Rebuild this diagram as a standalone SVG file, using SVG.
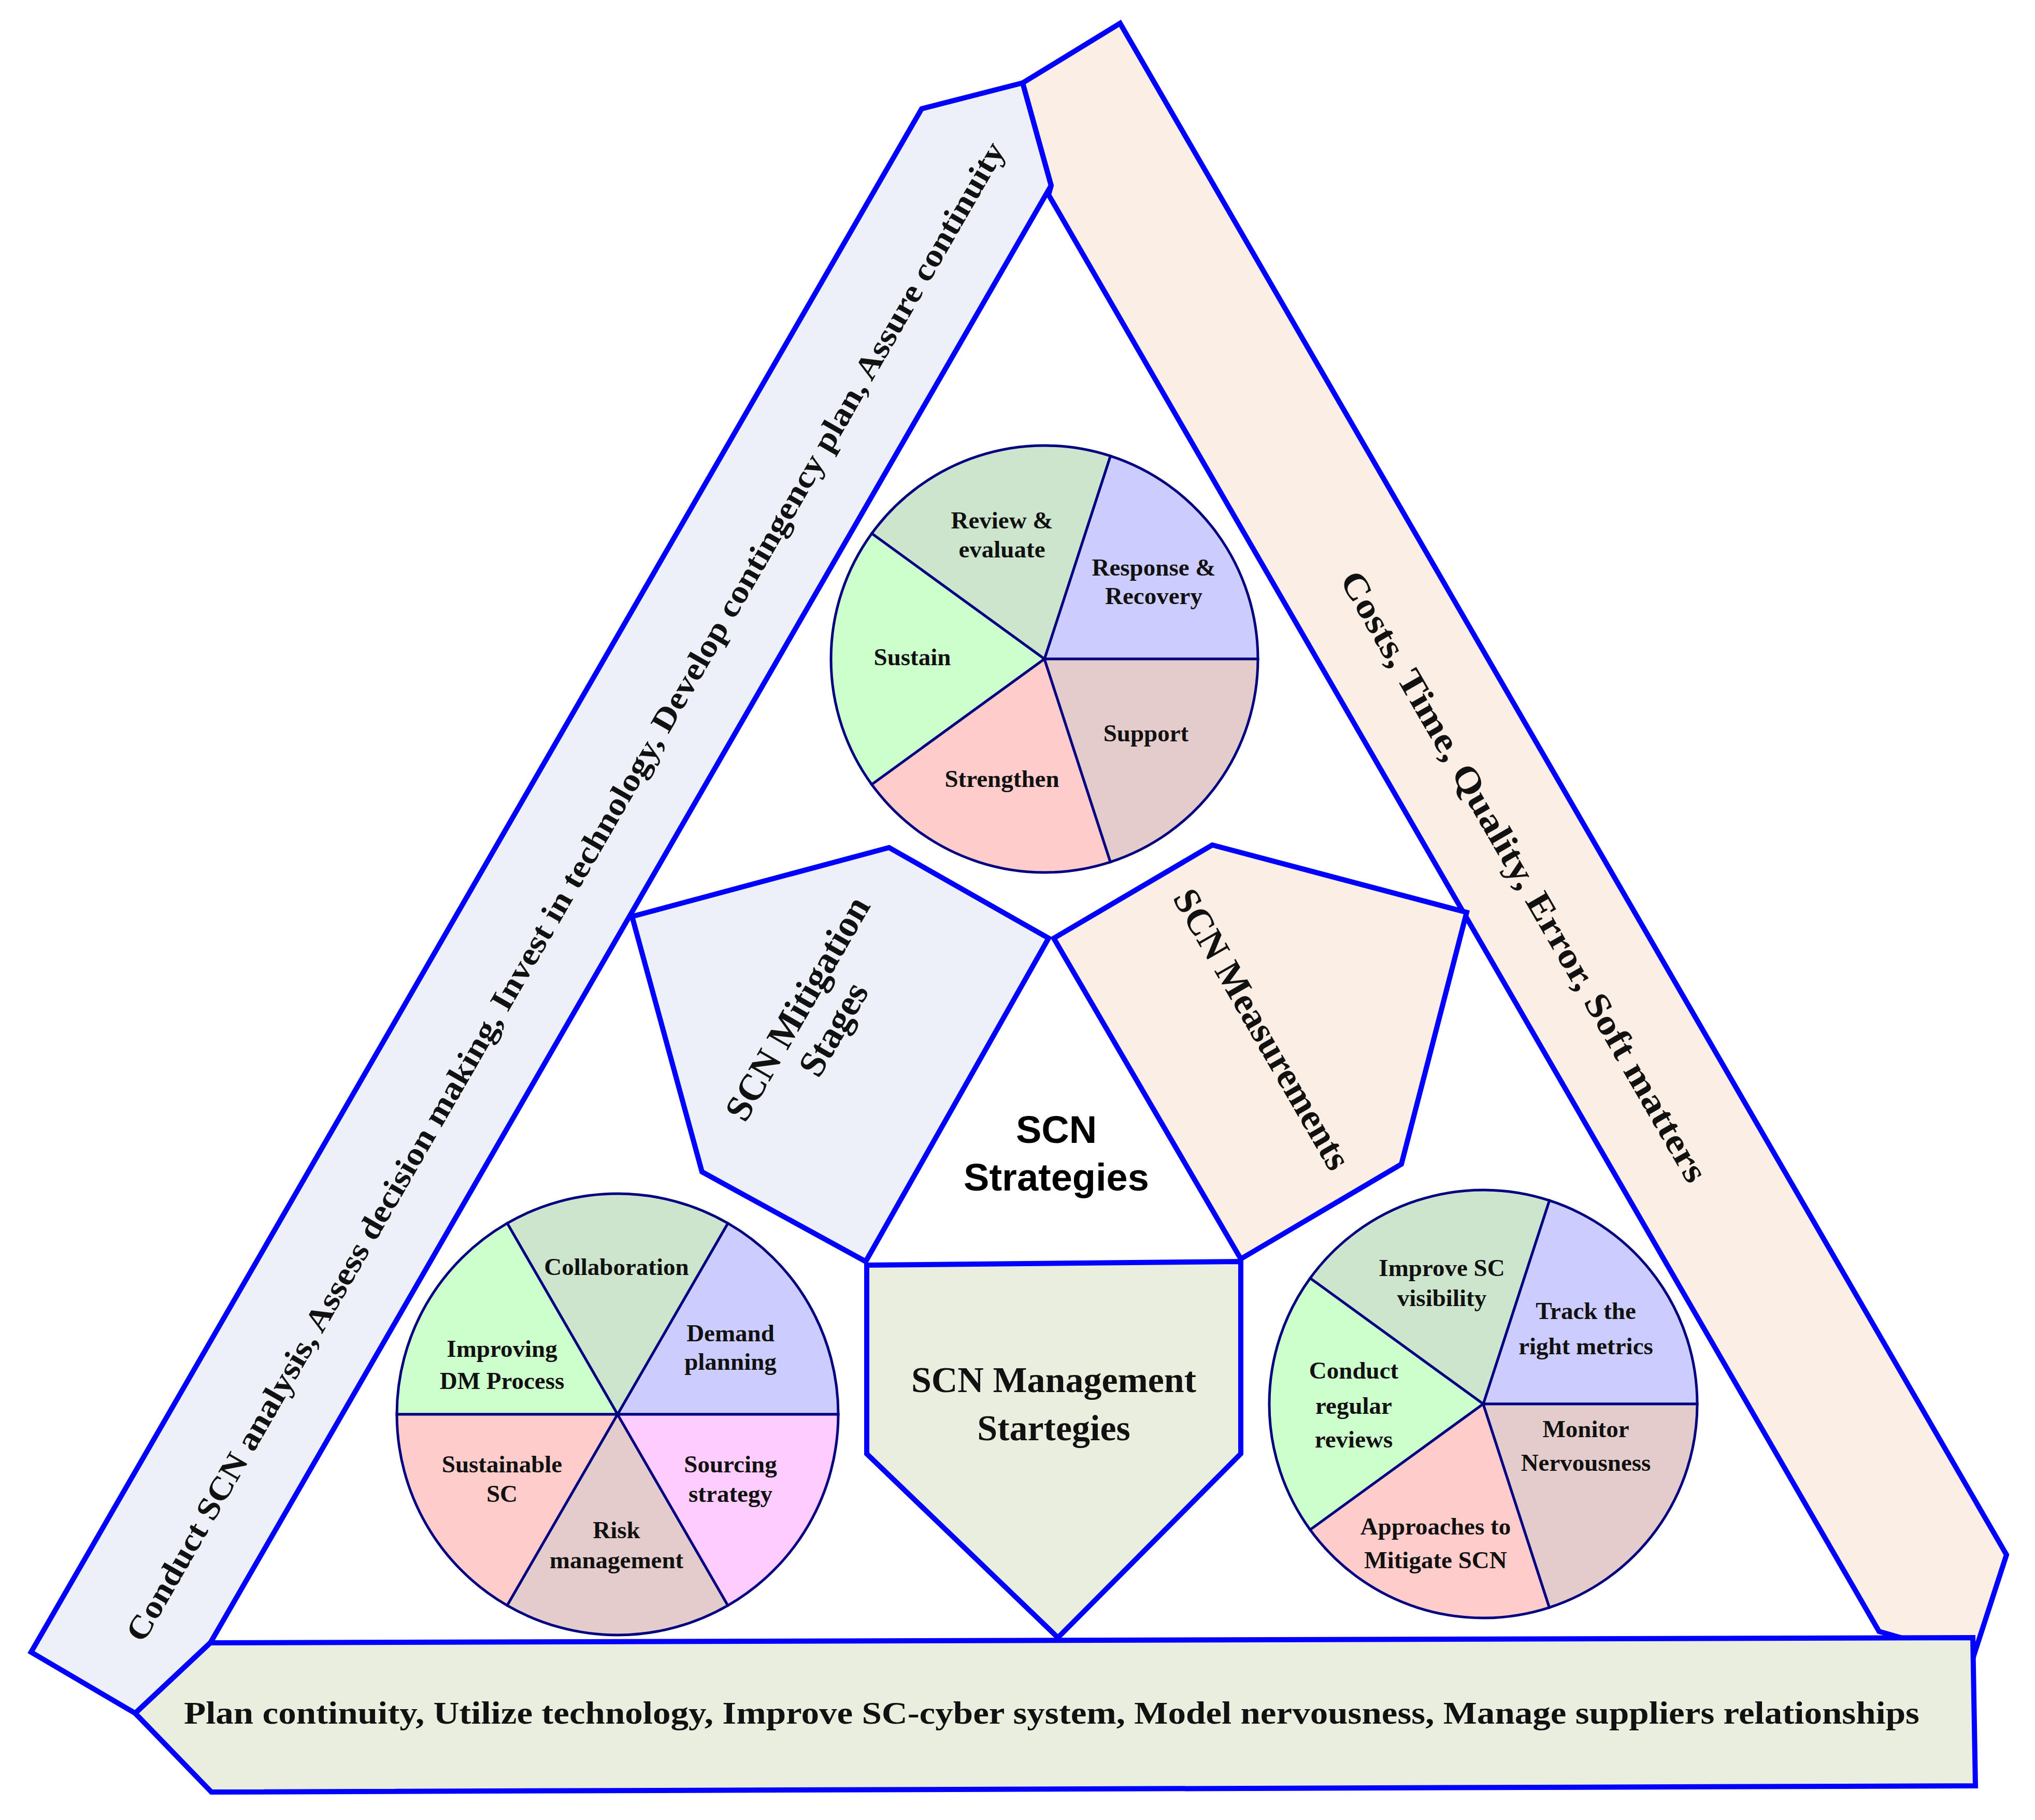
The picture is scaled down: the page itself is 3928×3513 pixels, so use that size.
<svg xmlns="http://www.w3.org/2000/svg" width="3928" height="3513" viewBox="0 0 3928 3513">
<style>
.band{stroke:#0000ff;stroke-width:10;stroke-linejoin:miter}
.pie{stroke:#000080;stroke-width:5}
.t{font-family:"Liberation Serif",serif;font-weight:bold;fill:#111;text-anchor:middle}
.pl{font-size:47px}
.big{font-size:62px}
.s{font-family:"Liberation Sans",Arial,sans-serif;font-weight:bold;fill:#000;text-anchor:middle;font-size:74px}
</style>
<rect width="3928" height="3513" fill="#fff"/>
<g id="left-band">
<polygon class="band" fill="#edf0f6" points="60,3189 1779,210 1974,160 2029,358 406,3171 261,3307"/>
<text class="t big" transform="translate(1090,1720) rotate(-60)" y="22" textLength="3330" lengthAdjust="spacingAndGlyphs">Conduct SCN analysis, Assess decision making, Invest in technology, Develop contingency plan, Assure continuity</text>
</g>
<g id="right-band">
<polygon class="band" fill="#fbeee4" points="1974,160 2162,45 3873,3001 3808,3201 3627,3149 2024,376 2029,358"/>
<text class="t" font-size="68" transform="translate(2943,1691) rotate(60)" y="24" textLength="1350" lengthAdjust="spacingAndGlyphs">Costs, Time, Quality, Error, Soft matters</text>
</g>
<g id="bottom-band">
<polygon class="band" fill="#eaeedf" points="406,3171 3808,3161 3813,3447 408,3459 261,3307"/>
<text class="t big" x="2030" y="3327" textLength="3350" lengthAdjust="spacingAndGlyphs">Plan continuity, Utilize technology, Improve SC-cyber system, Model nervousness, Manage suppliers relationships</text>
</g>
<g id="mitigation">
<polygon class="band" fill="#edf0f6" points="1220,1769 1716,1636 2024,1811 1671,2435 1355,2262"/>
<text class="t" font-size="72" transform="translate(1573,1966) rotate(-60)"><tspan x="0" y="-15">SCN Mitigation</tspan><tspan x="0" y="65">Stages</tspan></text>
</g>
<g id="measurements">
<polygon class="band" fill="#fbeee4" points="2034,1811 2340,1631 2831,1761 2705,2247 2395,2430"/>
<text class="t" font-size="72" transform="translate(2437,1986) rotate(60)" y="25">SCN Measurements</text>
</g>
<g id="management">
<polygon class="band" fill="#eaeedf" points="1673,2442 2395,2435 2395,2806 2042,3161 1673,2806"/>
<text class="t" font-size="70"><tspan x="2034" y="2687">SCN Management</tspan><tspan x="2034" y="2780">Startegies</tspan></text>
</g>
<g id="center">
<text class="s"><tspan x="2039" y="2206">SCN</tspan><tspan x="2039" y="2298">Strategies</tspan></text>
</g>
<g id="pie-stages">
<path class="pie" fill="#ccccff" d="M2016,1272 L2428,1272 A412,412 0 0 0 2143.3,880.2 Z"/>
<path class="pie" fill="#cce5cc" d="M2016,1272 L2143.3,880.2 A412,412 0 0 0 1682.7,1029.8 Z"/>
<path class="pie" fill="#ccffcc" d="M2016,1272 L1682.7,1029.8 A412,412 0 0 0 1682.7,1514.2 Z"/>
<path class="pie" fill="#ffcccc" d="M2016,1272 L1682.7,1514.2 A412,412 0 0 0 2143.3,1663.8 Z"/>
<path class="pie" fill="#e5cccc" d="M2016,1272 L2143.3,1663.8 A412,412 0 0 0 2428,1272 Z"/>
<text class="t pl"><tspan x="1934" y="1020">Review &amp;</tspan><tspan x="1934" y="1076">evaluate</tspan><tspan x="2227" y="1111">Response &amp;</tspan><tspan x="2227" y="1166">Recovery</tspan><tspan x="1761" y="1284">Sustain</tspan><tspan x="2212" y="1431">Support</tspan><tspan x="1934" y="1519">Strengthen</tspan></text>
</g>
<g id="pie-management">
<path class="pie" fill="#ccccff" d="M1192,2730 L1618,2730 A426,426 0 0 0 1405,2361.1 Z"/>
<path class="pie" fill="#cce5cc" d="M1192,2730 L1405,2361.1 A426,426 0 0 0 979,2361.1 Z"/>
<path class="pie" fill="#ccffcc" d="M1192,2730 L979,2361.1 A426,426 0 0 0 766,2730 Z"/>
<path class="pie" fill="#ffcccc" d="M1192,2730 L766,2730 A426,426 0 0 0 979,3098.9 Z"/>
<path class="pie" fill="#e5cccc" d="M1192,2730 L979,3098.9 A426,426 0 0 0 1405,3098.9 Z"/>
<path class="pie" fill="#ffccff" d="M1192,2730 L1405,3098.9 A426,426 0 0 0 1618,2730 Z"/>
<text class="t pl"><tspan x="1190" y="2461">Collaboration</tspan><tspan x="969" y="2619">Improving</tspan><tspan x="969" y="2681">DM Process</tspan><tspan x="1410" y="2589">Demand</tspan><tspan x="1410" y="2644">planning</tspan><tspan x="969" y="2842">Sustainable</tspan><tspan x="969" y="2899">SC</tspan><tspan x="1410" y="2842">Sourcing</tspan><tspan x="1410" y="2899">strategy</tspan><tspan x="1190" y="2969">Risk</tspan><tspan x="1190" y="3027">management</tspan></text>
</g>
<g id="pie-measurements">
<path class="pie" fill="#ccccff" d="M2863,2710 L3276,2710 A413,413 0 0 0 2990.6,2317.2 Z"/>
<path class="pie" fill="#cce5cc" d="M2863,2710 L2990.6,2317.2 A413,413 0 0 0 2528.9,2467.2 Z"/>
<path class="pie" fill="#ccffcc" d="M2863,2710 L2528.9,2467.2 A413,413 0 0 0 2528.9,2952.8 Z"/>
<path class="pie" fill="#ffcccc" d="M2863,2710 L2528.9,2952.8 A413,413 0 0 0 2990.6,3102.8 Z"/>
<path class="pie" fill="#e5cccc" d="M2863,2710 L2990.6,3102.8 A413,413 0 0 0 3276,2710 Z"/>
<text class="t pl"><tspan x="2783" y="2463">Improve SC</tspan><tspan x="2783" y="2521">visibility</tspan><tspan x="3061" y="2546">Track the</tspan><tspan x="3061" y="2614">right metrics</tspan><tspan x="2613" y="2661">Conduct</tspan><tspan x="2613" y="2729">regular</tspan><tspan x="2613" y="2794">reviews</tspan><tspan x="3061" y="2774">Monitor</tspan><tspan x="3061" y="2839">Nervousness</tspan><tspan x="2771" y="2962">Approaches to</tspan><tspan x="2771" y="3027">Mitigate SCN</tspan></text>
</g>
<g id="connectors"></g>
</svg>
